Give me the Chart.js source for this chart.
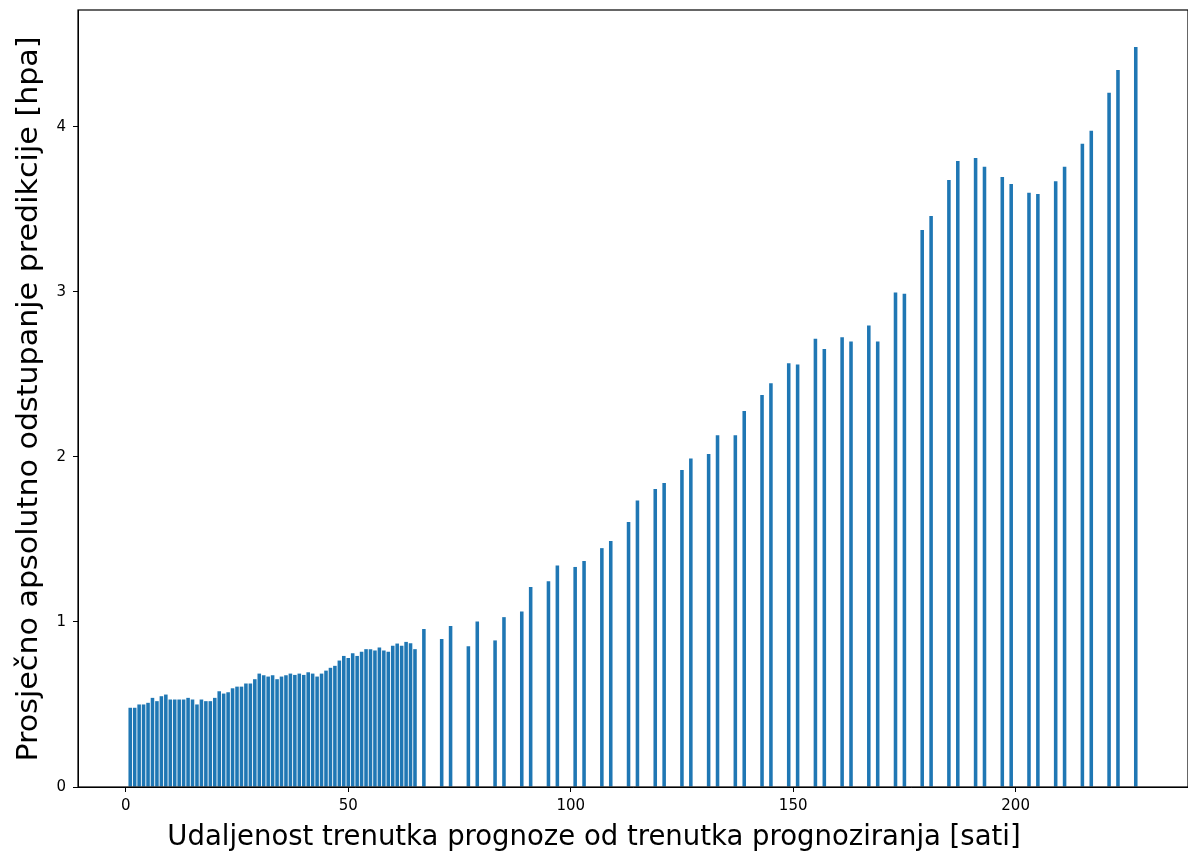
<!DOCTYPE html>
<html>
<head>
	<meta charset="utf-8">
	<title>Prosječno apsolutno odstupanje predikcije</title>
	<script src="https://cdn.jsdelivr.net/npm/chart.js"></script>
	<style>
		body { margin: 0; background: #fff; }
	</style>
</head>
<body>

	<canvas id="grafico" width="1188" height="857"></canvas>

	<script>
		// sati (x) i prosjecno odstupanje (y), ocitano sa slike
		var sati = [
			1, 2, 3, 4, 5, 6, 7, 8, 9, 10, 11, 12, 13, 14, 15, 16, 17, 18, 19, 20,
			21, 22, 23, 24, 25, 26, 27, 28, 29, 30, 31, 32, 33, 34, 35, 36, 37, 38, 39, 40,
			41, 42, 43, 44, 45, 46, 47, 48, 49, 50, 51, 52, 53, 54, 55, 56, 57, 58, 59, 60,
			61, 62, 63, 64, 65,
			67, 71, 73, 77, 79, 83, 85, 89, 91, 95, 97, 101, 103, 107, 109, 113, 115, 119, 121,
			125, 127, 131, 133, 137, 139, 143, 145, 149, 151, 155, 157, 161, 163, 167, 169,
			173, 175, 179, 181, 185, 187, 191, 193, 197, 199, 203, 205, 209, 211, 215, 217,
			221, 223, 227
		];
		var odstupanje = [
			0.48, 0.48, 0.50, 0.50, 0.51, 0.54, 0.52, 0.55, 0.56, 0.53, 0.53, 0.53, 0.53, 0.54, 0.53, 0.50, 0.53, 0.52, 0.52, 0.54,
			0.58, 0.566, 0.574, 0.598, 0.608, 0.608, 0.627, 0.627, 0.653, 0.687, 0.677, 0.669, 0.677, 0.653, 0.669, 0.677, 0.687, 0.679, 0.687, 0.679,
			0.695, 0.687, 0.669, 0.687, 0.705, 0.722, 0.734, 0.766, 0.794, 0.782, 0.811, 0.794, 0.819, 0.835, 0.835, 0.827, 0.845, 0.827, 0.819, 0.855,
			0.869, 0.855, 0.879, 0.871, 0.835,
			0.957, 0.897, 0.975, 0.853, 1.002, 0.888, 1.029, 1.063, 1.211, 1.247, 1.342, 1.333, 1.369, 1.447, 1.490, 1.605, 1.736, 1.805, 1.842,
			1.920, 1.990, 2.017, 2.131, 2.131, 2.278, 2.375, 2.446, 2.567, 2.559, 2.715, 2.654, 2.725, 2.699, 2.796, 2.699,
			2.996, 2.988, 3.374, 3.459, 3.677, 3.792, 3.810, 3.758, 3.695, 3.653, 3.600, 3.592, 3.669, 3.758, 3.897, 3.976,
			4.205, 4.344, 4.483
		];
		var xTicks = [0, 50, 100, 150, 200];
		var yTicks = [0, 1, 2, 3, 4];
		var xNaslov = 'Udaljenost trenutka prognoze od trenutka prognoziranja [sati]';
		var yNaslov = 'Prosječno apsolutno odstupanje predikcije [hpa]';

		var tocke = sati.map(function (h, i) { return { x: h, y: odstupanje[i] }; });

		// okvir oko grafa (kao matplotlib spines) + naslovi osi
		var okvir = {
			id: 'okvir',
			afterDraw: function (chart) {
				var a = chart.chartArea, ctx = chart.ctx;
				ctx.save();
				ctx.strokeStyle = '#000';
				ctx.lineWidth = 1.2;
				ctx.strokeRect(a.left, a.top, a.right - a.left, a.bottom - a.top);

				ctx.fillStyle = '#000';
				ctx.font = '27.5px "DejaVu Sans"';
				ctx.textAlign = 'center';
				ctx.textBaseline = 'middle';
				ctx.fillText(xNaslov, 594, 838);

				ctx.translate(30, 399);
				ctx.rotate(-Math.PI / 2);
				ctx.scale(1.095, 1);
				ctx.fillText(yNaslov, 0, 0);
				ctx.restore();
			}
		};

		Chart.defaults.font.family = 'DejaVu Sans';
		Chart.defaults.color = '#000';

		var ctx = document.getElementById('grafico').getContext('2d');
		var chart = new Chart(ctx, {
			type: 'bar',
			data: {
				datasets: [{
					data: tocke,
					backgroundColor: '#1f77b4',
					borderWidth: 0,
					barPercentage: 0.8,
					categoryPercentage: 1.0
				}]
			},
			options: {
				responsive: false,
				animation: false,
				devicePixelRatio: 1,
				layout: { padding: { top: 10, right: 0, left: 0, bottom: 0 } },
				plugins: {
					legend: { display: false },
					tooltip: { enabled: false }
				},
				scales: {
					x: {
						type: 'linear',
						offset: false,
						min: -10.74,
						max: 238.74,
						afterBuildTicks: function (s) { s.ticks = xTicks.map(function (v) { return { value: v }; }); },
						afterFit: function (s) { s.height = 70; s.paddingLeft = 0; s.paddingRight = 0; },
						grid: { offset: false, drawOnChartArea: false, drawTicks: true, tickLength: 5, color: '#000', lineWidth: 1 },
						border: { display: true, color: '#000', width: 1 },
						ticks: { font: { size: 15 }, padding: 5, maxRotation: 0 }
					},
					y: {
						min: 0,
						max: 4.707,
						afterBuildTicks: function (s) { s.ticks = yTicks.map(function (v) { return { value: v }; }); },
						afterFit: function (s) { s.width = 78; s.paddingTop = 0; s.paddingBottom = 0; },
						grid: { drawOnChartArea: false, drawTicks: true, tickLength: 5, color: '#000', lineWidth: 1 },
						border: { display: true, color: '#000', width: 1 },
						ticks: { font: { size: 15 }, padding: 7 }
					}
				}
			},
			plugins: [okvir]
		});
	</script>

</body>
</html>
